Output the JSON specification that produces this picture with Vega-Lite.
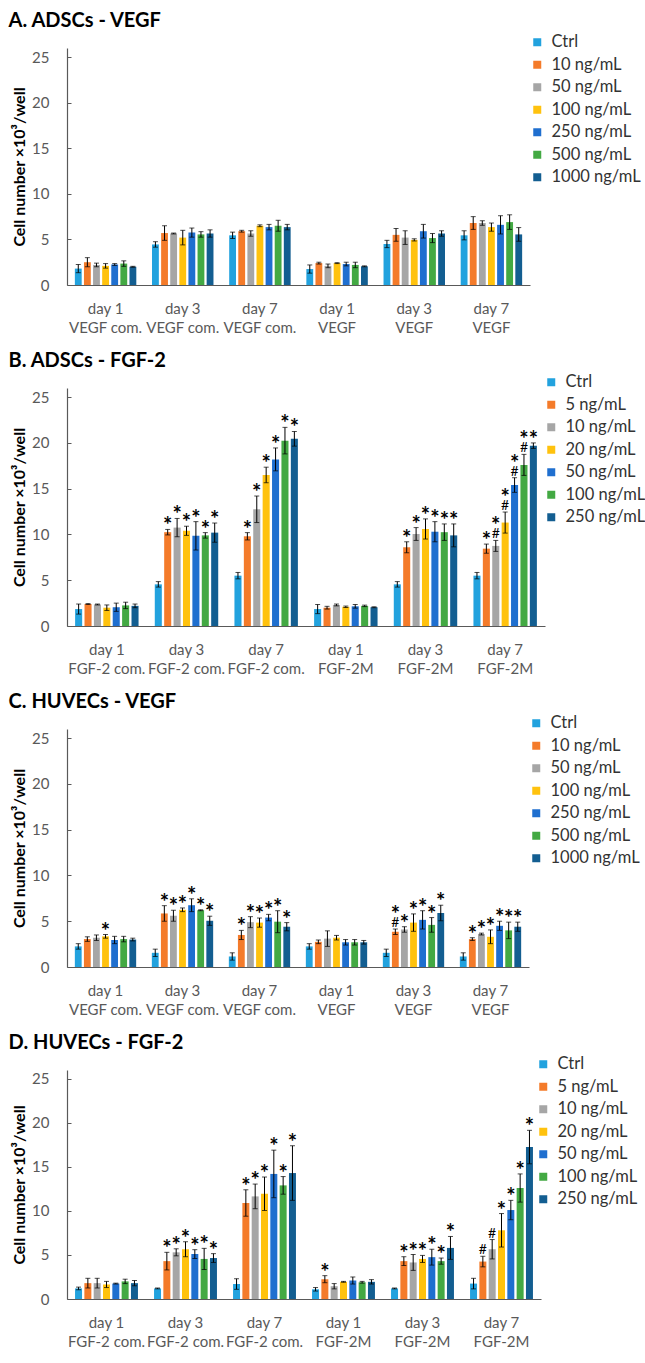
{
"$schema": "https://vega.github.io/schema/vega-lite/v6.json",
"background": "white",
"padding": {"left": 8, "top": 11, "right": 5, "bottom": 5},
"spacing": 16,
"config": {
  "font": "Lato",
  "view": {"stroke": null},
  "title": {"anchor": "start", "frame": "bounds", "fontSize": 20, "font": "Lato", "fontWeight": "bold", "color": "#000000", "baseline": "alphabetic", "offset": 3, "dx": -3},
  "axisX": {"ticks": false, "domainColor": "#595959", "domainWidth": 1.2, "labelColor": "#595959", "labelFontSize": 15, "labelFont": "Lato", "labelExpr": "split(datum.label, '|')", "labelLineHeight": 19, "labelPadding": 16, "labelAngle": 0, "title": null},
  "axisY": {"grid": false, "domainColor": "#595959", "domainWidth": 1.2, "tickColor": "#595959", "tickSize": -4, "labelColor": "#595959", "labelFontSize": 15, "labelFont": "Lato", "labelPadding": 22, "values": [0, 5, 10, 15, 20, 25], "titleFontSize": 16, "titleFont": "Lato", "titleFontWeight": "bold", "titleColor": "#000000", "titlePadding": 4},
  "legend": {"title": null, "orient": "none", "direction": "vertical", "symbolType": "square", "symbolSize": 64, "symbolStrokeWidth": 0, "labelFontSize": 16.5, "labelFont": "Lato", "labelColor": "#333333", "rowPadding": 5.5, "labelOffset": 6, "padding": 0, "legendY": -14}
},
"datasets": {
"d": [
{"panel":"A","group":"day 1|VEGF com.","conc":"Ctrl","mean":1.8,"lo":1.35,"hi":2.25,"sig":""},
{"panel":"A","group":"day 1|VEGF com.","conc":"10 ng/mL","mean":2.5,"lo":2.0,"hi":3.0,"sig":""},
{"panel":"A","group":"day 1|VEGF com.","conc":"50 ng/mL","mean":2.2,"lo":2.0,"hi":2.4,"sig":""},
{"panel":"A","group":"day 1|VEGF com.","conc":"100 ng/mL","mean":2.1,"lo":1.85,"hi":2.35,"sig":""},
{"panel":"A","group":"day 1|VEGF com.","conc":"250 ng/mL","mean":2.25,"lo":2.15,"hi":2.35,"sig":""},
{"panel":"A","group":"day 1|VEGF com.","conc":"500 ng/mL","mean":2.35,"lo":2.05,"hi":2.65,"sig":""},
{"panel":"A","group":"day 1|VEGF com.","conc":"1000 ng/mL","mean":2.0,"lo":1.95,"hi":2.05,"sig":""},
{"panel":"A","group":"day 3|VEGF com.","conc":"Ctrl","mean":4.45,"lo":4.15,"hi":4.75,"sig":""},
{"panel":"A","group":"day 3|VEGF com.","conc":"10 ng/mL","mean":5.7,"lo":4.9,"hi":6.5,"sig":""},
{"panel":"A","group":"day 3|VEGF com.","conc":"50 ng/mL","mean":5.65,"lo":5.6,"hi":5.7,"sig":""},
{"panel":"A","group":"day 3|VEGF com.","conc":"100 ng/mL","mean":5.2,"lo":4.4,"hi":6.0,"sig":""},
{"panel":"A","group":"day 3|VEGF com.","conc":"250 ng/mL","mean":5.75,"lo":5.25,"hi":6.25,"sig":""},
{"panel":"A","group":"day 3|VEGF com.","conc":"500 ng/mL","mean":5.55,"lo":5.25,"hi":5.85,"sig":""},
{"panel":"A","group":"day 3|VEGF com.","conc":"1000 ng/mL","mean":5.65,"lo":5.25,"hi":6.05,"sig":""},
{"panel":"A","group":"day 7|VEGF com.","conc":"Ctrl","mean":5.45,"lo":5.1,"hi":5.8,"sig":""},
{"panel":"A","group":"day 7|VEGF com.","conc":"10 ng/mL","mean":5.9,"lo":5.8,"hi":6.0,"sig":""},
{"panel":"A","group":"day 7|VEGF com.","conc":"50 ng/mL","mean":5.65,"lo":5.35,"hi":5.95,"sig":""},
{"panel":"A","group":"day 7|VEGF com.","conc":"100 ng/mL","mean":6.5,"lo":6.4,"hi":6.6,"sig":""},
{"panel":"A","group":"day 7|VEGF com.","conc":"250 ng/mL","mean":6.35,"lo":6.05,"hi":6.65,"sig":""},
{"panel":"A","group":"day 7|VEGF com.","conc":"500 ng/mL","mean":6.5,"lo":5.9,"hi":7.1,"sig":""},
{"panel":"A","group":"day 7|VEGF com.","conc":"1000 ng/mL","mean":6.35,"lo":6.05,"hi":6.65,"sig":""},
{"panel":"A","group":"day 1|VEGF","conc":"Ctrl","mean":1.75,"lo":1.3,"hi":2.2,"sig":""},
{"panel":"A","group":"day 1|VEGF","conc":"10 ng/mL","mean":2.4,"lo":2.3,"hi":2.5,"sig":""},
{"panel":"A","group":"day 1|VEGF","conc":"50 ng/mL","mean":2.1,"lo":1.9,"hi":2.3,"sig":""},
{"panel":"A","group":"day 1|VEGF","conc":"100 ng/mL","mean":2.4,"lo":2.35,"hi":2.45,"sig":""},
{"panel":"A","group":"day 1|VEGF","conc":"250 ng/mL","mean":2.3,"lo":2.1,"hi":2.5,"sig":""},
{"panel":"A","group":"day 1|VEGF","conc":"500 ng/mL","mean":2.2,"lo":1.9,"hi":2.5,"sig":""},
{"panel":"A","group":"day 1|VEGF","conc":"1000 ng/mL","mean":2.05,"lo":2.0,"hi":2.1,"sig":""},
{"panel":"A","group":"day 3|VEGF","conc":"Ctrl","mean":4.5,"lo":4.1,"hi":4.9,"sig":""},
{"panel":"A","group":"day 3|VEGF","conc":"10 ng/mL","mean":5.5,"lo":4.8,"hi":6.2,"sig":""},
{"panel":"A","group":"day 3|VEGF","conc":"50 ng/mL","mean":5.2,"lo":4.45,"hi":5.95,"sig":""},
{"panel":"A","group":"day 3|VEGF","conc":"100 ng/mL","mean":4.95,"lo":4.83,"hi":5.07,"sig":""},
{"panel":"A","group":"day 3|VEGF","conc":"250 ng/mL","mean":5.9,"lo":5.15,"hi":6.65,"sig":""},
{"panel":"A","group":"day 3|VEGF","conc":"500 ng/mL","mean":5.15,"lo":4.65,"hi":5.65,"sig":""},
{"panel":"A","group":"day 3|VEGF","conc":"1000 ng/mL","mean":5.65,"lo":5.35,"hi":5.95,"sig":""},
{"panel":"A","group":"day 7|VEGF","conc":"Ctrl","mean":5.45,"lo":4.95,"hi":5.95,"sig":""},
{"panel":"A","group":"day 7|VEGF","conc":"10 ng/mL","mean":6.8,"lo":6.1,"hi":7.5,"sig":""},
{"panel":"A","group":"day 7|VEGF","conc":"50 ng/mL","mean":6.8,"lo":6.55,"hi":7.05,"sig":""},
{"panel":"A","group":"day 7|VEGF","conc":"100 ng/mL","mean":6.35,"lo":5.9,"hi":6.8,"sig":""},
{"panel":"A","group":"day 7|VEGF","conc":"250 ng/mL","mean":6.6,"lo":5.6,"hi":7.6,"sig":""},
{"panel":"A","group":"day 7|VEGF","conc":"500 ng/mL","mean":6.9,"lo":6.1,"hi":7.7,"sig":""},
{"panel":"A","group":"day 7|VEGF","conc":"1000 ng/mL","mean":5.55,"lo":4.8,"hi":6.3,"sig":""},

{"panel":"B","group":"day 1|FGF-2 com.","conc":"Ctrl","mean":1.85,"lo":1.3,"hi":2.4,"sig":""},
{"panel":"B","group":"day 1|FGF-2 com.","conc":"5 ng/mL","mean":2.4,"lo":2.35,"hi":2.45,"sig":""},
{"panel":"B","group":"day 1|FGF-2 com.","conc":"10 ng/mL","mean":2.35,"lo":2.3,"hi":2.4,"sig":""},
{"panel":"B","group":"day 1|FGF-2 com.","conc":"20 ng/mL","mean":2.0,"lo":1.7,"hi":2.3,"sig":""},
{"panel":"B","group":"day 1|FGF-2 com.","conc":"50 ng/mL","mean":2.05,"lo":1.6,"hi":2.5,"sig":""},
{"panel":"B","group":"day 1|FGF-2 com.","conc":"100 ng/mL","mean":2.25,"lo":1.9,"hi":2.6,"sig":""},
{"panel":"B","group":"day 1|FGF-2 com.","conc":"250 ng/mL","mean":2.2,"lo":2.0,"hi":2.4,"sig":""},
{"panel":"B","group":"day 3|FGF-2 com.","conc":"Ctrl","mean":4.55,"lo":4.25,"hi":4.85,"sig":""},
{"panel":"B","group":"day 3|FGF-2 com.","conc":"5 ng/mL","mean":10.25,"lo":9.95,"hi":10.55,"sig":"*"},
{"panel":"B","group":"day 3|FGF-2 com.","conc":"10 ng/mL","mean":10.75,"lo":9.75,"hi":11.75,"sig":"*"},
{"panel":"B","group":"day 3|FGF-2 com.","conc":"20 ng/mL","mean":10.4,"lo":9.9,"hi":10.9,"sig":"*"},
{"panel":"B","group":"day 3|FGF-2 com.","conc":"50 ng/mL","mean":9.85,"lo":8.3,"hi":11.4,"sig":"*"},
{"panel":"B","group":"day 3|FGF-2 com.","conc":"100 ng/mL","mean":9.9,"lo":9.6,"hi":10.2,"sig":"*"},
{"panel":"B","group":"day 3|FGF-2 com.","conc":"250 ng/mL","mean":10.2,"lo":9.15,"hi":11.25,"sig":"*"},
{"panel":"B","group":"day 7|FGF-2 com.","conc":"Ctrl","mean":5.5,"lo":5.15,"hi":5.85,"sig":""},
{"panel":"B","group":"day 7|FGF-2 com.","conc":"5 ng/mL","mean":9.8,"lo":9.4,"hi":10.2,"sig":"*"},
{"panel":"B","group":"day 7|FGF-2 com.","conc":"10 ng/mL","mean":12.75,"lo":11.3,"hi":14.2,"sig":"*"},
{"panel":"B","group":"day 7|FGF-2 com.","conc":"20 ng/mL","mean":16.5,"lo":15.65,"hi":17.35,"sig":"*"},
{"panel":"B","group":"day 7|FGF-2 com.","conc":"50 ng/mL","mean":18.2,"lo":16.95,"hi":19.45,"sig":"*"},
{"panel":"B","group":"day 7|FGF-2 com.","conc":"100 ng/mL","mean":20.25,"lo":18.8,"hi":21.7,"sig":"*"},
{"panel":"B","group":"day 7|FGF-2 com.","conc":"250 ng/mL","mean":20.45,"lo":19.65,"hi":21.25,"sig":"*"},
{"panel":"B","group":"day 1|FGF-2M","conc":"Ctrl","mean":1.85,"lo":1.35,"hi":2.35,"sig":""},
{"panel":"B","group":"day 1|FGF-2M","conc":"5 ng/mL","mean":2.0,"lo":1.85,"hi":2.15,"sig":""},
{"panel":"B","group":"day 1|FGF-2M","conc":"10 ng/mL","mean":2.3,"lo":2.2,"hi":2.4,"sig":""},
{"panel":"B","group":"day 1|FGF-2M","conc":"20 ng/mL","mean":2.1,"lo":2.02,"hi":2.18,"sig":""},
{"panel":"B","group":"day 1|FGF-2M","conc":"50 ng/mL","mean":2.15,"lo":1.95,"hi":2.35,"sig":""},
{"panel":"B","group":"day 1|FGF-2M","conc":"100 ng/mL","mean":2.2,"lo":2.12,"hi":2.28,"sig":""},
{"panel":"B","group":"day 1|FGF-2M","conc":"250 ng/mL","mean":2.05,"lo":2.0,"hi":2.1,"sig":""},
{"panel":"B","group":"day 3|FGF-2M","conc":"Ctrl","mean":4.55,"lo":4.25,"hi":4.85,"sig":""},
{"panel":"B","group":"day 3|FGF-2M","conc":"5 ng/mL","mean":8.6,"lo":8.0,"hi":9.2,"sig":"*"},
{"panel":"B","group":"day 3|FGF-2M","conc":"10 ng/mL","mean":10.05,"lo":9.35,"hi":10.75,"sig":"*"},
{"panel":"B","group":"day 3|FGF-2M","conc":"20 ng/mL","mean":10.6,"lo":9.5,"hi":11.7,"sig":"*"},
{"panel":"B","group":"day 3|FGF-2M","conc":"50 ng/mL","mean":10.3,"lo":9.2,"hi":11.4,"sig":"*"},
{"panel":"B","group":"day 3|FGF-2M","conc":"100 ng/mL","mean":10.25,"lo":9.35,"hi":11.15,"sig":"*"},
{"panel":"B","group":"day 3|FGF-2M","conc":"250 ng/mL","mean":9.9,"lo":8.65,"hi":11.15,"sig":"*"},
{"panel":"B","group":"day 7|FGF-2M","conc":"Ctrl","mean":5.5,"lo":5.15,"hi":5.85,"sig":""},
{"panel":"B","group":"day 7|FGF-2M","conc":"5 ng/mL","mean":8.45,"lo":7.95,"hi":8.95,"sig":"*"},
{"panel":"B","group":"day 7|FGF-2M","conc":"10 ng/mL","mean":8.75,"lo":8.15,"hi":9.35,"sig":"#*"},
{"panel":"B","group":"day 7|FGF-2M","conc":"20 ng/mL","mean":11.3,"lo":10.15,"hi":12.45,"sig":"#*"},
{"panel":"B","group":"day 7|FGF-2M","conc":"50 ng/mL","mean":15.4,"lo":14.6,"hi":16.2,"sig":"#*"},
{"panel":"B","group":"day 7|FGF-2M","conc":"100 ng/mL","mean":17.6,"lo":16.45,"hi":18.75,"sig":"#*"},
{"panel":"B","group":"day 7|FGF-2M","conc":"250 ng/mL","mean":19.7,"lo":19.4,"hi":20.0,"sig":"*"},

{"panel":"C","group":"day 1|VEGF com.","conc":"Ctrl","mean":2.25,"lo":1.95,"hi":2.55,"sig":""},
{"panel":"C","group":"day 1|VEGF com.","conc":"10 ng/mL","mean":3.05,"lo":2.8,"hi":3.3,"sig":""},
{"panel":"C","group":"day 1|VEGF com.","conc":"50 ng/mL","mean":3.2,"lo":2.9,"hi":3.5,"sig":""},
{"panel":"C","group":"day 1|VEGF com.","conc":"100 ng/mL","mean":3.35,"lo":3.15,"hi":3.55,"sig":"*"},
{"panel":"C","group":"day 1|VEGF com.","conc":"250 ng/mL","mean":2.95,"lo":2.55,"hi":3.35,"sig":""},
{"panel":"C","group":"day 1|VEGF com.","conc":"500 ng/mL","mean":3.05,"lo":2.75,"hi":3.35,"sig":""},
{"panel":"C","group":"day 1|VEGF com.","conc":"1000 ng/mL","mean":3.0,"lo":2.85,"hi":3.15,"sig":""},
{"panel":"C","group":"day 3|VEGF com.","conc":"Ctrl","mean":1.55,"lo":1.15,"hi":1.95,"sig":""},
{"panel":"C","group":"day 3|VEGF com.","conc":"10 ng/mL","mean":5.85,"lo":5.0,"hi":6.7,"sig":"*"},
{"panel":"C","group":"day 3|VEGF com.","conc":"50 ng/mL","mean":5.6,"lo":5.0,"hi":6.2,"sig":"*"},
{"panel":"C","group":"day 3|VEGF com.","conc":"100 ng/mL","mean":6.25,"lo":6.05,"hi":6.45,"sig":"*"},
{"panel":"C","group":"day 3|VEGF com.","conc":"250 ng/mL","mean":6.75,"lo":6.05,"hi":7.45,"sig":"*"},
{"panel":"C","group":"day 3|VEGF com.","conc":"500 ng/mL","mean":6.2,"lo":6.15,"hi":6.25,"sig":"*"},
{"panel":"C","group":"day 3|VEGF com.","conc":"1000 ng/mL","mean":5.05,"lo":4.55,"hi":5.55,"sig":"*"},
{"panel":"C","group":"day 7|VEGF com.","conc":"Ctrl","mean":1.15,"lo":0.75,"hi":1.55,"sig":""},
{"panel":"C","group":"day 7|VEGF com.","conc":"10 ng/mL","mean":3.5,"lo":3.0,"hi":4.0,"sig":"*"},
{"panel":"C","group":"day 7|VEGF com.","conc":"50 ng/mL","mean":4.9,"lo":4.3,"hi":5.5,"sig":"*"},
{"panel":"C","group":"day 7|VEGF com.","conc":"100 ng/mL","mean":4.85,"lo":4.35,"hi":5.35,"sig":"*"},
{"panel":"C","group":"day 7|VEGF com.","conc":"250 ng/mL","mean":5.4,"lo":5.05,"hi":5.75,"sig":"*"},
{"panel":"C","group":"day 7|VEGF com.","conc":"500 ng/mL","mean":4.95,"lo":3.75,"hi":6.15,"sig":"*"},
{"panel":"C","group":"day 7|VEGF com.","conc":"1000 ng/mL","mean":4.4,"lo":3.95,"hi":4.85,"sig":"*"},
{"panel":"C","group":"day 1|VEGF","conc":"Ctrl","mean":2.25,"lo":1.95,"hi":2.55,"sig":""},
{"panel":"C","group":"day 1|VEGF","conc":"10 ng/mL","mean":2.75,"lo":2.55,"hi":2.95,"sig":""},
{"panel":"C","group":"day 1|VEGF","conc":"50 ng/mL","mean":3.1,"lo":2.25,"hi":3.95,"sig":""},
{"panel":"C","group":"day 1|VEGF","conc":"100 ng/mL","mean":3.2,"lo":2.95,"hi":3.45,"sig":""},
{"panel":"C","group":"day 1|VEGF","conc":"250 ng/mL","mean":2.7,"lo":2.4,"hi":3.0,"sig":""},
{"panel":"C","group":"day 1|VEGF","conc":"500 ng/mL","mean":2.7,"lo":2.4,"hi":3.0,"sig":""},
{"panel":"C","group":"day 1|VEGF","conc":"1000 ng/mL","mean":2.7,"lo":2.5,"hi":2.9,"sig":""},
{"panel":"C","group":"day 3|VEGF","conc":"Ctrl","mean":1.55,"lo":1.15,"hi":1.95,"sig":""},
{"panel":"C","group":"day 3|VEGF","conc":"10 ng/mL","mean":3.85,"lo":3.55,"hi":4.15,"sig":"#*"},
{"panel":"C","group":"day 3|VEGF","conc":"50 ng/mL","mean":4.1,"lo":3.8,"hi":4.4,"sig":"*"},
{"panel":"C","group":"day 3|VEGF","conc":"100 ng/mL","mean":4.85,"lo":3.9,"hi":5.8,"sig":"*"},
{"panel":"C","group":"day 3|VEGF","conc":"250 ng/mL","mean":5.15,"lo":4.15,"hi":6.15,"sig":"*"},
{"panel":"C","group":"day 3|VEGF","conc":"500 ng/mL","mean":4.6,"lo":3.8,"hi":5.4,"sig":"*"},
{"panel":"C","group":"day 3|VEGF","conc":"1000 ng/mL","mean":5.9,"lo":5.05,"hi":6.75,"sig":"*"},
{"panel":"C","group":"day 7|VEGF","conc":"Ctrl","mean":1.15,"lo":0.75,"hi":1.55,"sig":""},
{"panel":"C","group":"day 7|VEGF","conc":"10 ng/mL","mean":3.05,"lo":2.9,"hi":3.2,"sig":"*"},
{"panel":"C","group":"day 7|VEGF","conc":"50 ng/mL","mean":3.6,"lo":3.5,"hi":3.7,"sig":"*"},
{"panel":"C","group":"day 7|VEGF","conc":"100 ng/mL","mean":3.3,"lo":2.55,"hi":4.05,"sig":"*"},
{"panel":"C","group":"day 7|VEGF","conc":"250 ng/mL","mean":4.5,"lo":4.0,"hi":5.0,"sig":"*"},
{"panel":"C","group":"day 7|VEGF","conc":"500 ng/mL","mean":4.0,"lo":3.1,"hi":4.9,"sig":"*"},
{"panel":"C","group":"day 7|VEGF","conc":"1000 ng/mL","mean":4.4,"lo":3.9,"hi":4.9,"sig":"*"},

{"panel":"D","group":"day 1|FGF-2 com.","conc":"Ctrl","mean":1.2,"lo":1.05,"hi":1.35,"sig":""},
{"panel":"D","group":"day 1|FGF-2 com.","conc":"5 ng/mL","mean":1.8,"lo":1.25,"hi":2.35,"sig":""},
{"panel":"D","group":"day 1|FGF-2 com.","conc":"10 ng/mL","mean":1.8,"lo":1.25,"hi":2.35,"sig":""},
{"panel":"D","group":"day 1|FGF-2 com.","conc":"20 ng/mL","mean":1.65,"lo":1.3,"hi":2.0,"sig":""},
{"panel":"D","group":"day 1|FGF-2 com.","conc":"50 ng/mL","mean":1.75,"lo":1.7,"hi":1.8,"sig":""},
{"panel":"D","group":"day 1|FGF-2 com.","conc":"100 ng/mL","mean":2.0,"lo":1.75,"hi":2.25,"sig":""},
{"panel":"D","group":"day 1|FGF-2 com.","conc":"250 ng/mL","mean":1.8,"lo":1.5,"hi":2.1,"sig":""},
{"panel":"D","group":"day 3|FGF-2 com.","conc":"Ctrl","mean":1.2,"lo":1.15,"hi":1.25,"sig":""},
{"panel":"D","group":"day 3|FGF-2 com.","conc":"5 ng/mL","mean":4.3,"lo":3.3,"hi":5.3,"sig":"*"},
{"panel":"D","group":"day 3|FGF-2 com.","conc":"10 ng/mL","mean":5.3,"lo":4.9,"hi":5.7,"sig":"*"},
{"panel":"D","group":"day 3|FGF-2 com.","conc":"20 ng/mL","mean":5.65,"lo":4.8,"hi":6.5,"sig":"*"},
{"panel":"D","group":"day 3|FGF-2 com.","conc":"50 ng/mL","mean":5.1,"lo":4.6,"hi":5.6,"sig":"*"},
{"panel":"D","group":"day 3|FGF-2 com.","conc":"100 ng/mL","mean":4.55,"lo":3.35,"hi":5.75,"sig":"*"},
{"panel":"D","group":"day 3|FGF-2 com.","conc":"250 ng/mL","mean":4.65,"lo":4.15,"hi":5.15,"sig":"*"},
{"panel":"D","group":"day 7|FGF-2 com.","conc":"Ctrl","mean":1.7,"lo":1.1,"hi":2.3,"sig":""},
{"panel":"D","group":"day 7|FGF-2 com.","conc":"5 ng/mL","mean":10.9,"lo":9.4,"hi":12.4,"sig":"*"},
{"panel":"D","group":"day 7|FGF-2 com.","conc":"10 ng/mL","mean":11.65,"lo":10.25,"hi":13.05,"sig":"*"},
{"panel":"D","group":"day 7|FGF-2 com.","conc":"20 ng/mL","mean":11.95,"lo":10.05,"hi":13.85,"sig":"*"},
{"panel":"D","group":"day 7|FGF-2 com.","conc":"50 ng/mL","mean":14.2,"lo":11.5,"hi":16.9,"sig":"*"},
{"panel":"D","group":"day 7|FGF-2 com.","conc":"100 ng/mL","mean":12.9,"lo":11.9,"hi":13.9,"sig":"*"},
{"panel":"D","group":"day 7|FGF-2 com.","conc":"250 ng/mL","mean":14.3,"lo":11.2,"hi":17.4,"sig":"*"},
{"panel":"D","group":"day 1|FGF-2M","conc":"Ctrl","mean":1.1,"lo":0.9,"hi":1.3,"sig":""},
{"panel":"D","group":"day 1|FGF-2M","conc":"5 ng/mL","mean":2.25,"lo":1.85,"hi":2.65,"sig":"*"},
{"panel":"D","group":"day 1|FGF-2M","conc":"10 ng/mL","mean":1.45,"lo":1.15,"hi":1.75,"sig":""},
{"panel":"D","group":"day 1|FGF-2M","conc":"20 ng/mL","mean":1.95,"lo":1.9,"hi":2.0,"sig":""},
{"panel":"D","group":"day 1|FGF-2M","conc":"50 ng/mL","mean":2.1,"lo":1.7,"hi":2.5,"sig":""},
{"panel":"D","group":"day 1|FGF-2M","conc":"100 ng/mL","mean":1.9,"lo":1.8,"hi":2.0,"sig":""},
{"panel":"D","group":"day 1|FGF-2M","conc":"250 ng/mL","mean":1.95,"lo":1.7,"hi":2.2,"sig":""},
{"panel":"D","group":"day 3|FGF-2M","conc":"Ctrl","mean":1.2,"lo":1.15,"hi":1.25,"sig":""},
{"panel":"D","group":"day 3|FGF-2M","conc":"5 ng/mL","mean":4.3,"lo":3.8,"hi":4.8,"sig":"*"},
{"panel":"D","group":"day 3|FGF-2M","conc":"10 ng/mL","mean":4.15,"lo":3.25,"hi":5.05,"sig":"*"},
{"panel":"D","group":"day 3|FGF-2M","conc":"20 ng/mL","mean":4.55,"lo":4.15,"hi":4.95,"sig":"*"},
{"panel":"D","group":"day 3|FGF-2M","conc":"50 ng/mL","mean":4.75,"lo":3.85,"hi":5.65,"sig":"*"},
{"panel":"D","group":"day 3|FGF-2M","conc":"100 ng/mL","mean":4.3,"lo":3.95,"hi":4.65,"sig":"*"},
{"panel":"D","group":"day 3|FGF-2M","conc":"250 ng/mL","mean":5.8,"lo":4.5,"hi":7.1,"sig":"*"},
{"panel":"D","group":"day 7|FGF-2M","conc":"Ctrl","mean":1.75,"lo":1.15,"hi":2.35,"sig":""},
{"panel":"D","group":"day 7|FGF-2M","conc":"5 ng/mL","mean":4.25,"lo":3.65,"hi":4.85,"sig":"#"},
{"panel":"D","group":"day 7|FGF-2M","conc":"10 ng/mL","mean":5.65,"lo":4.55,"hi":6.75,"sig":"#"},
{"panel":"D","group":"day 7|FGF-2M","conc":"20 ng/mL","mean":7.8,"lo":5.9,"hi":9.7,"sig":"*"},
{"panel":"D","group":"day 7|FGF-2M","conc":"50 ng/mL","mean":10.1,"lo":9.0,"hi":11.2,"sig":"*"},
{"panel":"D","group":"day 7|FGF-2M","conc":"100 ng/mL","mean":12.6,"lo":11.0,"hi":14.2,"sig":"*"},
{"panel":"D","group":"day 7|FGF-2M","conc":"250 ng/mL","mean":17.25,"lo":15.35,"hi":19.15,"sig":"*"}
]
},
"resolve": {"scale": {"color": "independent", "x": "independent", "xOffset": "independent", "y": "independent"}, "legend": {"color": "independent"}},
"vconcat": [
{
  "title": {"text": "A. ADSCs - VEGF"},
  "width": 463, "height": 237,
  "data": {"name": "d"},
  "transform": [{"filter": "datum.panel == 'A'"}],
  "encoding": {
    "x": {"field": "group", "type": "nominal", "sort": null, "scale": {"paddingInner": 0.18, "paddingOuter": 0.09}},
    "xOffset": {"field": "conc", "type": "nominal", "sort": null, "scale": {"paddingInner": 0.25, "paddingOuter": 0.1}}
  },
  "layer": [
    {"mark": {"type": "bar"}, "encoding": {
      "y": {"field": "mean", "type": "quantitative", "title": "Cell number ×10³/well", "scale": {"domain": [0, 25]}},
      "color": {"field": "conc", "type": "nominal", "scale": {"domain": ["Ctrl","10 ng/mL","50 ng/mL","100 ng/mL","250 ng/mL","500 ng/mL","1000 ng/mL"], "range": ["#22A2DE","#F47B2A","#A6A6A6","#FFC20E","#1F6FCF","#43A943","#135E91"]}, "legend": {"legendX": 462}}}},
    {"mark": {"type": "rule", "color": "#000000", "strokeWidth": 1}, "encoding": {"y": {"field": "lo", "type": "quantitative", "title": "Cell number ×10³/well"}, "y2": {"field": "hi"}}},
    {"mark": {"type": "tick", "color": "#000000", "size": 5, "thickness": 1}, "encoding": {"y": {"field": "lo", "type": "quantitative", "title": "Cell number ×10³/well"}}},
    {"mark": {"type": "tick", "color": "#000000", "size": 5, "thickness": 1}, "encoding": {"y": {"field": "hi", "type": "quantitative", "title": "Cell number ×10³/well"}}}
  ]
},
{
  "title": {"text": "B. ADSCs - FGF-2"},
  "width": 478, "height": 238,
  "data": {"name": "d"},
  "transform": [{"filter": "datum.panel == 'B'"}],
  "encoding": {
    "x": {"field": "group", "type": "nominal", "sort": null, "scale": {"paddingInner": 0.18, "paddingOuter": 0.09}},
    "xOffset": {"field": "conc", "type": "nominal", "sort": null, "scale": {"paddingInner": 0.25, "paddingOuter": 0.1}}
  },
  "layer": [
    {"mark": {"type": "bar"}, "encoding": {
      "y": {"field": "mean", "type": "quantitative", "title": "Cell number ×10³/well", "scale": {"domain": [0, 25]}},
      "color": {"field": "conc", "type": "nominal", "scale": {"domain": ["Ctrl","5 ng/mL","10 ng/mL","20 ng/mL","50 ng/mL","100 ng/mL","250 ng/mL"], "range": ["#22A2DE","#F47B2A","#A6A6A6","#FFC20E","#1F6FCF","#43A943","#135E91"]}, "legend": {"legendX": 476}}}},
    {"mark": {"type": "rule", "color": "#000000", "strokeWidth": 1}, "encoding": {"y": {"field": "lo", "type": "quantitative", "title": "Cell number ×10³/well"}, "y2": {"field": "hi"}}},
    {"mark": {"type": "tick", "color": "#000000", "size": 5, "thickness": 1}, "encoding": {"y": {"field": "lo", "type": "quantitative", "title": "Cell number ×10³/well"}}},
    {"mark": {"type": "tick", "color": "#000000", "size": 5, "thickness": 1}, "encoding": {"y": {"field": "hi", "type": "quantitative", "title": "Cell number ×10³/well"}}},
    {"transform": [{"filter": "indexof(datum.sig, '#') >= 0"}], "mark": {"type": "text", "text": "#", "fontSize": 14, "baseline": "alphabetic", "dy": -2, "color": "#000000"}, "encoding": {"y": {"field": "hi", "type": "quantitative", "title": "Cell number ×10³/well"}}},
    {"transform": [{"filter": "datum.sig == '*'"}], "mark": {"type": "text", "text": "*", "fontSize": 22, "fontWeight": "bold", "baseline": "alphabetic", "dy": 4, "color": "#000000"}, "encoding": {"y": {"field": "hi", "type": "quantitative", "title": "Cell number ×10³/well"}}},
    {"transform": [{"filter": "datum.sig == '#*'"}], "mark": {"type": "text", "text": "*", "fontSize": 22, "fontWeight": "bold", "baseline": "alphabetic", "dy": -7, "color": "#000000"}, "encoding": {"y": {"field": "hi", "type": "quantitative", "title": "Cell number ×10³/well"}}}
  ]
},
{
  "title": {"text": "C. HUVECs - VEGF"},
  "width": 462, "height": 238,
  "data": {"name": "d"},
  "transform": [{"filter": "datum.panel == 'C'"}],
  "encoding": {
    "x": {"field": "group", "type": "nominal", "sort": null, "scale": {"paddingInner": 0.18, "paddingOuter": 0.09}},
    "xOffset": {"field": "conc", "type": "nominal", "sort": null, "scale": {"paddingInner": 0.25, "paddingOuter": 0.1}}
  },
  "layer": [
    {"mark": {"type": "bar"}, "encoding": {
      "y": {"field": "mean", "type": "quantitative", "title": "Cell number ×10³/well", "scale": {"domain": [0, 25]}},
      "color": {"field": "conc", "type": "nominal", "scale": {"domain": ["Ctrl","10 ng/mL","50 ng/mL","100 ng/mL","250 ng/mL","500 ng/mL","1000 ng/mL"], "range": ["#22A2DE","#F47B2A","#A6A6A6","#FFC20E","#1F6FCF","#43A943","#135E91"]}, "legend": {"legendX": 461}}}},
    {"mark": {"type": "rule", "color": "#000000", "strokeWidth": 1}, "encoding": {"y": {"field": "lo", "type": "quantitative", "title": "Cell number ×10³/well"}, "y2": {"field": "hi"}}},
    {"mark": {"type": "tick", "color": "#000000", "size": 5, "thickness": 1}, "encoding": {"y": {"field": "lo", "type": "quantitative", "title": "Cell number ×10³/well"}}},
    {"mark": {"type": "tick", "color": "#000000", "size": 5, "thickness": 1}, "encoding": {"y": {"field": "hi", "type": "quantitative", "title": "Cell number ×10³/well"}}},
    {"transform": [{"filter": "indexof(datum.sig, '#') >= 0"}], "mark": {"type": "text", "text": "#", "fontSize": 14, "baseline": "alphabetic", "dy": -2, "color": "#000000"}, "encoding": {"y": {"field": "hi", "type": "quantitative", "title": "Cell number ×10³/well"}}},
    {"transform": [{"filter": "datum.sig == '*'"}], "mark": {"type": "text", "text": "*", "fontSize": 22, "fontWeight": "bold", "baseline": "alphabetic", "dy": 4, "color": "#000000"}, "encoding": {"y": {"field": "hi", "type": "quantitative", "title": "Cell number ×10³/well"}}},
    {"transform": [{"filter": "datum.sig == '#*'"}], "mark": {"type": "text", "text": "*", "fontSize": 22, "fontWeight": "bold", "baseline": "alphabetic", "dy": -7, "color": "#000000"}, "encoding": {"y": {"field": "hi", "type": "quantitative", "title": "Cell number ×10³/well"}}}
  ]
},
{
  "title": {"text": "D. HUVECs - FGF-2"},
  "width": 474, "height": 229,
  "data": {"name": "d"},
  "transform": [{"filter": "datum.panel == 'D'"}],
  "encoding": {
    "x": {"field": "group", "type": "nominal", "sort": null, "scale": {"paddingInner": 0.18, "paddingOuter": 0.09}},
    "xOffset": {"field": "conc", "type": "nominal", "sort": null, "scale": {"paddingInner": 0.25, "paddingOuter": 0.1}}
  },
  "layer": [
    {"mark": {"type": "bar"}, "encoding": {
      "y": {"field": "mean", "type": "quantitative", "title": "Cell number ×10³/well", "scale": {"domain": [0, 25]}},
      "color": {"field": "conc", "type": "nominal", "scale": {"domain": ["Ctrl","5 ng/mL","10 ng/mL","20 ng/mL","50 ng/mL","100 ng/mL","250 ng/mL"], "range": ["#22A2DE","#F47B2A","#A6A6A6","#FFC20E","#1F6FCF","#43A943","#135E91"]}, "legend": {"legendX": 468}}}},
    {"mark": {"type": "rule", "color": "#000000", "strokeWidth": 1}, "encoding": {"y": {"field": "lo", "type": "quantitative", "title": "Cell number ×10³/well"}, "y2": {"field": "hi"}}},
    {"mark": {"type": "tick", "color": "#000000", "size": 5, "thickness": 1}, "encoding": {"y": {"field": "lo", "type": "quantitative", "title": "Cell number ×10³/well"}}},
    {"mark": {"type": "tick", "color": "#000000", "size": 5, "thickness": 1}, "encoding": {"y": {"field": "hi", "type": "quantitative", "title": "Cell number ×10³/well"}}},
    {"transform": [{"filter": "indexof(datum.sig, '#') >= 0"}], "mark": {"type": "text", "text": "#", "fontSize": 14, "baseline": "alphabetic", "dy": -2, "color": "#000000"}, "encoding": {"y": {"field": "hi", "type": "quantitative", "title": "Cell number ×10³/well"}}},
    {"transform": [{"filter": "datum.sig == '*'"}], "mark": {"type": "text", "text": "*", "fontSize": 22, "fontWeight": "bold", "baseline": "alphabetic", "dy": 4, "color": "#000000"}, "encoding": {"y": {"field": "hi", "type": "quantitative", "title": "Cell number ×10³/well"}}},
    {"transform": [{"filter": "datum.sig == '#*'"}], "mark": {"type": "text", "text": "*", "fontSize": 22, "fontWeight": "bold", "baseline": "alphabetic", "dy": -7, "color": "#000000"}, "encoding": {"y": {"field": "hi", "type": "quantitative", "title": "Cell number ×10³/well"}}}
  ]
}
]
}
